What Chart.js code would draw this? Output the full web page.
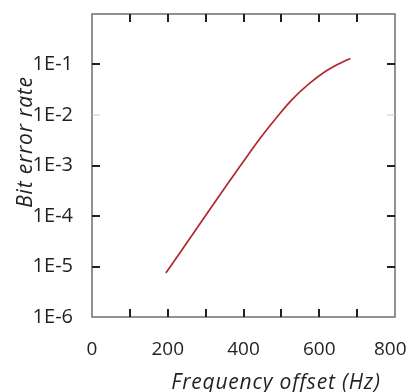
<!DOCTYPE html>
<html>
<head>
<meta charset="utf-8">
<style>
  html, body { margin: 0; padding: 0; background: #fff; }
  #wrap { width: 408px; height: 392px; }
</style>
<script src="https://cdn.jsdelivr.net/npm/chart.js"></script>
</head>
<body>
<div id="wrap"><canvas id="berChart" width="408" height="392"></canvas></div>
<script>
    const freqOffset = [195, 245, 310, 360, 395, 443, 495, 530, 575, 618, 654, 682];
    const bitErrorRate = [7.41e-6, 2.57e-5, 1.32e-4, 4.57e-4, 1.07e-3, 3.39e-3, 1.05e-2, 2.09e-2, 4.27e-2, 7.41e-2, 1.05e-1, 1.32e-1];

    const xTicks = [0, 100, 200, 300, 400, 500, 600, 700, 800];
    const xLabels = [0, 200, 400, 600, 800];
    const yTicks = [1e-6, 1e-5, 1e-4, 1e-3, 1e-2, 1e-1];
    const yLabels = ['1E-6', '1E-5', '1E-4', '1E-3', '1E-2', '1E-1'];

    const xTitle = 'Frequency offset (Hz)';
    const yTitle = 'Bit error rate';

    const fontFamily = '"Open Sans", "Noto Sans", sans-serif';
    const textColor = '#231f20';

    // frame, inward ticks on all four sides and the two axis titles
    const frameAndTitles = {
        id: 'frameAndTitles',
        afterDraw(chart) {
            const { ctx, chartArea: a, scales } = chart;
            ctx.save();
            ctx.strokeStyle = '#6d6e71';
            ctx.lineWidth = 1.5;
            ctx.strokeRect(a.left, a.top, a.right - a.left, a.bottom - a.top);

            ctx.lineWidth = 2;
            xTicks.slice(1, -1).forEach(v => {
                const x = Math.round(scales.x.getPixelForValue(v));
                ctx.strokeStyle = '#231f20';
                ctx.beginPath();
                ctx.moveTo(x, a.bottom); ctx.lineTo(x, a.bottom - 8);
                ctx.moveTo(x, a.top); ctx.lineTo(x, a.top + 8);
                ctx.stroke();
            });
            yTicks.slice(1).forEach(v => {
                const y = Math.round(scales.y.getPixelForValue(v));
                ctx.strokeStyle = v === 1e-2 ? '#c8c8c8' : '#231f20';
                ctx.lineWidth = v === 1e-2 ? 1 : 2;
                ctx.beginPath();
                ctx.moveTo(a.left, y); ctx.lineTo(a.left + 8, y);
                ctx.moveTo(a.right, y); ctx.lineTo(a.right - 8, y);
                ctx.stroke();
            });

            ctx.fillStyle = textColor;
            ctx.font = 'italic 21px ' + fontFamily;
            ctx.letterSpacing = '0.8px';
            ctx.textAlign = 'center';
            ctx.textBaseline = 'alphabetic';
            ctx.fillText(xTitle, a.left + 184, a.bottom + 72);

            ctx.translate(32, a.top + 128);
            ctx.rotate(-Math.PI / 2);
            ctx.fillText(yTitle, 0, 0);
            ctx.restore();
        }
    };

    const noPad = s => { s.paddingLeft = 0; s.paddingRight = 0; s.paddingTop = 0; s.paddingBottom = 0; };

    const ctx = document.getElementById('berChart').getContext('2d');
    const berChart = new Chart(ctx, {
        type: 'line',
        data: {
            datasets: [{
                label: 'Bit error rate',
                data: freqOffset.map((f, i) => ({ x: f, y: bitErrorRate[i] })),
                borderColor: '#b0282e',
                borderWidth: 1.7,
                pointRadius: 0,
                fill: false,
                cubicInterpolationMode: 'monotone'
            }]
        },
        options: {
            responsive: false,
            animation: false,
            layout: { padding: { top: 14, right: 13, left: 0, bottom: 0 } },
            plugins: {
                legend: { display: false },
                tooltip: { enabled: false }
            },
            scales: {
                x: {
                    type: 'linear',
                    min: 0,
                    max: 800,
                    afterBuildTicks: s => { s.ticks = xTicks.map(v => ({ value: v })); },
                    afterFit: s => { s.height = 75; noPad(s); },
                    grid: { display: false },
                    border: { display: false },
                    ticks: {
                        autoSkip: false,
                        maxRotation: 0,
                        padding: 13,
                        color: textColor,
                        font: { family: fontFamily, size: 19 },
                        // last label nudged inside the canvas, like the original
                        callback: v => !xLabels.includes(v) ? '' : (v === 800 ? '800\u2002' : String(v))
                    }
                },
                y: {
                    type: 'logarithmic',
                    min: 1e-6,
                    max: 1,
                    afterBuildTicks: s => { s.ticks = yTicks.map(v => ({ value: v })); },
                    afterFit: s => { s.width = 92; noPad(s); },
                    grid: { display: false },
                    border: { display: false },
                    ticks: {
                        autoSkip: false,
                        padding: 11,
                        color: textColor,
                        font: { family: fontFamily, size: 20 },
                        callback: v => yLabels[yTicks.findIndex(t => Math.abs(Math.log10(t) - Math.log10(v)) < 1e-6)] || ''
                    }
                }
            }
        },
        plugins: [frameAndTitles]
    });
</script>
</body>
</html>
